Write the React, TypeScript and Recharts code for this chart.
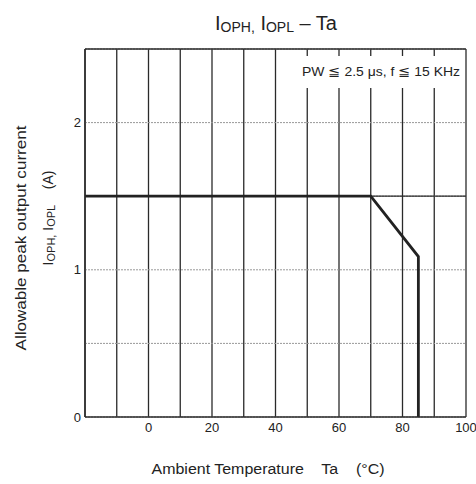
import { LineChart, Line, XAxis, YAxis, CartesianGrid, ReferenceLine } from 'recharts'

// derating curve
const temps = [-20, 70, 85, 85]
const currents = [1.5, 1.5, 1.09, 0]

const xTicks = [-20, -10, 0, 10, 20, 30, 40, 50, 60, 70, 80, 90, 100]
const xLabels = [0, 20, 40, 60, 80, 100]
const yTicks = [0, 0.5, 1, 1.5, 2, 2.5]
const yLabels = [0, 1, 2]

const font = '"Liberation Sans", Arial, sans-serif'
const ink = '#222'

export default function App() {
  const data = temps.map((t, i) => ({ ta: t, iop: currents[i] }))

  return (
    <div style={{ position: 'absolute', left: 0, top: 0, width: 476, height: 484, background: '#fff', fontFamily: font }}>
      <LineChart width={476} height={484} data={data} margin={{ top: 49, right: 10, bottom: 0, left: 20 }}>
        {/* vertical grid solid, horizontal grid dotted, so two grids */}
        <CartesianGrid horizontal={false} stroke="#2a2a2a" strokeWidth={1.3} verticalValues={xTicks} />
        <CartesianGrid vertical={false} stroke="#999" strokeDasharray="2 1" horizontalValues={yTicks} />
        <ReferenceLine y={1.5} stroke="#2a2a2a" strokeWidth={1.3} />
        <ReferenceLine y={2.5} stroke="#2a2a2a" strokeWidth={1.5} />
        <XAxis
          dataKey="ta"
          type="number"
          domain={[-20, 100]}
          ticks={xTicks}
          tickFormatter={(v) => (xLabels.includes(v) ? String(v) : '')}
          tickLine={false}
          tickSize={0}
          tickMargin={6}
          height={67}
          axisLine={{ stroke: '#2a2a2a', strokeWidth: 1.5 }}
          tick={{ fill: ink, fontSize: 13, fontFamily: font }}
          interval={0}
        />
        <YAxis
          type="number"
          domain={[0, 2.5]}
          ticks={yTicks}
          tickFormatter={(v) => (yLabels.includes(v) ? String(v) : '')}
          tickLine={false}
          tickSize={0}
          tickMargin={4}
          width={65}
          axisLine={{ stroke: '#2a2a2a', strokeWidth: 1.5 }}
          tick={{ fill: ink, fontSize: 13, fontFamily: font }}
          interval={0}
        />
        <Line dataKey="iop" type="linear" stroke={ink} strokeWidth={2.8} dot={false} isAnimationActive={false} />
      </LineChart>
      <svg width={476} height={484} style={{ position: 'absolute', left: 0, top: 0, pointerEvents: 'none' }} fontFamily={font} fill={ink}>
        <text x={276} y={30} textAnchor="middle" fontSize={20} style={{ whiteSpace: 'pre' }}>
          <tspan>I</tspan>
          <tspan fontSize={14} dy={2}>OPH,</tspan>
          <tspan dy={-2}> I</tspan>
          <tspan fontSize={14} dy={2}>OPL</tspan>
          <tspan dy={-2}> – Ta</tspan>
        </text>
        <rect x={298} y={56} width={166} height={32} fill="#fff" />
        <text x={302} y={76} fontSize={12.5} textLength={158} lengthAdjust="spacingAndGlyphs">
          PW ≦ 2.5 μs, f ≦ 15 KHz
        </text>
        <text x={0} y={0} transform="translate(26 238) rotate(-90)" textAnchor="middle" fontSize={14} textLength={225} lengthAdjust="spacingAndGlyphs">
          Allowable peak output current
        </text>
        <text x={0} y={0} transform="translate(53 218) rotate(-90)" textAnchor="middle" fontSize={14} style={{ whiteSpace: 'pre' }}>
          <tspan>I</tspan>
          <tspan fontSize={11} dy={2}>OPH,</tspan>
          <tspan dy={-2}> I</tspan>
          <tspan fontSize={11} dy={2}>OPL</tspan>
          <tspan dy={-2}>{'    (A)'}</tspan>
        </text>
        <text x={268} y={474} textAnchor="middle" fontSize={14} textLength={233} lengthAdjust="spacingAndGlyphs" style={{ whiteSpace: 'pre' }}>
          {'Ambient Temperature    Ta    (°C)'}
        </text>
      </svg>
    </div>
  )
}
